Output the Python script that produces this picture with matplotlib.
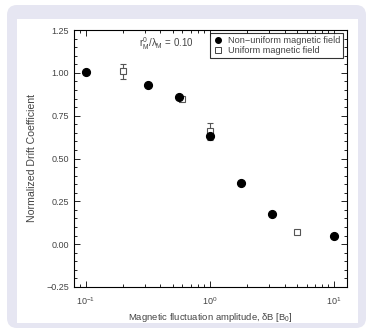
import matplotlib
matplotlib.use("Agg")
import matplotlib.pyplot as plt
from matplotlib.patches import FancyBboxPatch, Rectangle
from matplotlib.ticker import MultipleLocator, FixedLocator
from matplotlib.lines import Line2D

# ---- data ----
x_nonuniform = [0.1, 0.316, 0.562, 1.0, 1.77, 3.14, 10.0]
y_nonuniform = [1.003, 0.93, 0.86, 0.634, 0.355, 0.178, 0.047]
x_uniform = [0.2, 0.6, 1.0, 5.0]
y_uniform = [1.008, 0.849, 0.66, 0.073]
err_uniform = [0.046, 0.012, 0.05, 0.012]
legend_labels = ["Non\u2212uniform magnetic field", "Uniform magnetic field"]
y_ticks = [-0.25, 0.0, 0.25, 0.5, 0.75, 1.0, 1.25]

plt.rcParams['font.family'] = ['Liberation Sans', 'DejaVu Sans']
plt.rcParams['mathtext.fontset'] = 'custom'
plt.rcParams['mathtext.rm'] = 'Liberation Sans'
plt.rcParams['mathtext.it'] = 'Liberation Sans'
W, H = 368, 331
fig = plt.figure(figsize=(W / 100, H / 100), dpi=100)

# background panel (pixel coordinates)
bg = fig.add_axes([0, 0, 1, 1], zorder=-10)
bg.set_xlim(0, W)
bg.set_ylim(H, 0)
bg.axis('off')
bg.add_patch(FancyBboxPatch((7, 5), 359, 323, boxstyle="round,pad=0,rounding_size=10",
                            facecolor='#e6e6f2', edgecolor='none'))
bg.add_patch(Rectangle((17, 19), 341, 304, facecolor='white', edgecolor='none'))

ax = fig.add_axes([74 / W, 1 - 287 / H, (347 - 74) / W, (287 - 30) / H])
txtc = '#444444'

ax.errorbar(x_uniform, y_uniform, yerr=err_uniform, fmt='s', mfc='white', mec='#555555',
            ecolor='#555555', ms=5, mew=0.8, elinewidth=0.8, capsize=2, capthick=0.8,
            zorder=2)
ax.plot(x_nonuniform, y_nonuniform, 'o', color='black', ms=5.6, zorder=3)

ax.set_xscale('log')
ax.set_xlim(0.0805, 12.7)
ax.set_ylim(-0.25, 1.25)
ax.yaxis.set_major_locator(FixedLocator(y_ticks))
ax.yaxis.set_minor_locator(MultipleLocator(0.05))
ax.yaxis.set_major_formatter(matplotlib.ticker.FuncFormatter(
    lambda v, p: ("%.2f" % v).replace('-', '\u2212')))

ax.tick_params(which='both', direction='in', top=True, right=True,
               labelsize=6.5, labelcolor=txtc, width=0.6)
ax.tick_params(which='major', length=4)
ax.tick_params(which='minor', length=2)
ax.tick_params(axis='x', which='major', pad=6)
for s in ax.spines.values():
    s.set_linewidth(0.8)

ax.set_xlabel(r"Magnetic fluctuation amplitude, $\delta$B [B$_0$]", fontsize=6.8, color=txtc, labelpad=3)
ax.set_ylabel("Normalized Drift Coefficient", fontsize=7.6, color=txtc, labelpad=7)

ax.text(166, 44, r"r$_M^0$/$\lambda_M$ = 0.10", transform=bg.transData, fontsize=7,
        color=txtc, ha='center', va='center')

h1 = Line2D([], [], marker='o', color='black', ls='none', ms=4)
h2 = Line2D([], [], marker='s', mfc='white', mec='#444444', ls='none', ms=4, mew=0.7)
leg = ax.legend([h1, h2], legend_labels, loc='upper right', bbox_to_anchor=(0.985, 0.988),
                borderaxespad=0, fontsize=6.6, frameon=True, fancybox=False,
                handlelength=1.0, handletextpad=0.6, borderpad=0.3, labelspacing=0.15,
                labelcolor=txtc)
leg.get_frame().set_edgecolor('black')
leg.get_frame().set_linewidth(0.8)

fig.savefig("out.png", dpi=100)
